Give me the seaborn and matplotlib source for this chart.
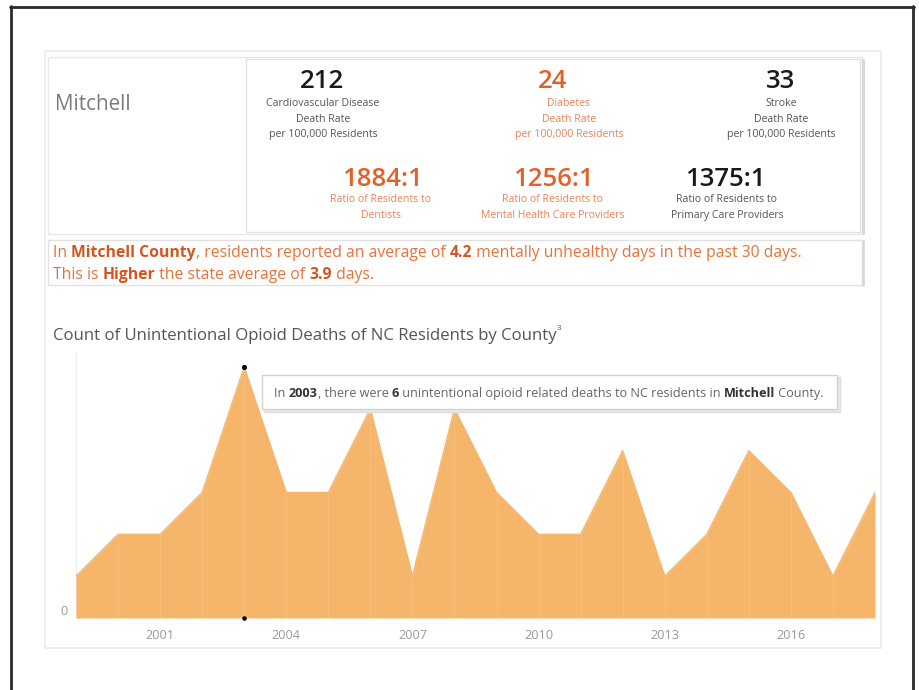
import matplotlib
matplotlib.use("Agg")
import matplotlib.pyplot as plt
import matplotlib.patches as mpatches
from matplotlib.lines import Line2D
from matplotlib.font_manager import FontProperties
import seaborn as sns

# ---------------- data ----------------
county = "Mitchell"
years = [1999, 2000, 2001, 2002, 2003, 2004, 2005, 2006, 2007, 2008,
         2009, 2010, 2011, 2012, 2013, 2014, 2015, 2016, 2017, 2018]
deaths = [1, 2, 2, 3, 6, 3, 3, 5, 1, 5,
          3, 2, 2, 4, 1, 2, 4, 3, 1, 3]
tick_years = [2001, 2004, 2007, 2010, 2013, 2016]

rate_values = ["212", "24", "33"]
rate_labels = [["Cardiovascular Disease", "Death Rate", "per 100,000 Residents"],
               ["Diabetes", "Death Rate", "per 100,000 Residents"],
               ["Stroke", "Death Rate", "per 100,000 Residents"]]
rate_highlight = [False, True, False]

ratio_values = ["1884:1", "1256:1", "1375:1"]
ratio_labels = [["Ratio of Residents to", "Dentists"],
                ["Ratio of Residents to", "Mental Health Care Providers"],
                ["Ratio of Residents to", "Primary Care Providers"]]
ratio_highlight = [True, True, False]

county_days = "4.2"
state_days = "3.9"
comparison = "Higher"
hover_year = 2003
hover_count = 6

# ---------------- style ----------------
W, H = 919, 690
FONT = ["Open Sans", "DejaVu Sans"]
ORANGE_FILL = "#F5B66B"
ORANGE_TXT = "#E2602A"
ORANGE_LBL = "#E8845A"
ORANGE_PAR = "#E5733C"
ORANGE_BOLD = "#D4561E"

sns.set_theme(style="white")
plt.rcParams["font.family"] = FONT

fig = plt.figure(figsize=(W / 100, H / 100), dpi=100)
fig.patch.set_facecolor("white")
renderer = fig.canvas.get_renderer()


def fx(x):
    return x / W


def fy(y):
    return 1 - y / H


def rect(x0, y0, x1, y1, ec="#e6e6e6", lw=1.0, fc="none", z=1):
    r = mpatches.Rectangle((fx(x0), fy(y1)), fx(x1) - fx(x0), fy(y0) - fy(y1),
                           transform=fig.transFigure, fill=(fc != "none"),
                           facecolor=fc if fc != "none" else "white",
                           edgecolor=ec, linewidth=lw, zorder=z)
    fig.add_artist(r)
    return r


def hline(x0, x1, y, color, lw, z=1):
    fig.add_artist(Line2D([fx(x0), fx(x1)], [fy(y), fy(y)], transform=fig.transFigure,
                          color=color, lw=lw, zorder=z))


def vline(x, y0, y1, color, lw, z=1):
    fig.add_artist(Line2D([fx(x), fx(x)], [fy(y0), fy(y1)], transform=fig.transFigure,
                          color=color, lw=lw, zorder=z))


def text_width(s, size, weight="normal"):
    prop = FontProperties(family=FONT, size=size, weight=weight)
    w1, _, _ = renderer.get_text_width_height_descent("H" + s + "H", prop, ismath=False)
    w2, _, _ = renderer.get_text_width_height_descent("HH", prop, ismath=False)
    return w1 - w2


def fit(s, target, weight="normal", base=10.0):
    return base * target / text_width(s, base, weight)


def runs_width(runs, size):
    return sum(text_width(s, size, w) for s, w, c in runs)


def fit_runs(runs, target, base=10.0):
    return base * target / runs_width(runs, base)


def txt(x, y, s, size, color, weight="normal", ha="center", va="center", z=5):
    return fig.text(fx(x), fy(y), s, fontsize=size, color=color, fontweight=weight,
                    ha=ha, va=va, zorder=z, family=FONT)


def rich(x, y, runs, size, z=6):
    cur = x
    for s, weight, color in runs:
        fig.text(fx(cur), fy(y), s, fontsize=size, fontweight=weight, color=color,
                 ha="left", va="center", zorder=z, family=FONT)
        cur += text_width(s, size, weight)
    return cur


# ---------------- frames ----------------
vline(11, 6, 700, "#2a2a2a", 2.0, z=10)
vline(913, 6, 700, "#2a2a2a", 2.0, z=10)
hline(10, 914, 6.5, "#2a2a2a", 2.0, z=10)

rect(45, 51, 881, 648, ec="#ececec", lw=1.2)
rect(48, 57, 862, 234, ec="#e8e8e8", lw=1.0)
rect(246, 59, 860, 232, ec="#e2e2e2", lw=1.0)
vline(862.5, 60, 233, "#d8d8d8", 2.2)
rect(48, 240, 862, 285, ec="#e2e2e2", lw=1.0)
vline(862.5, 241, 285, "#d8d8d8", 2.0)

# ---------------- KPI texts ----------------
txt(55, 104, county, fit(county, 76), "#7a7a7a", ha="left")

NUM_W = "semibold"
NUM_SIZE = fit("1884:1", 81, weight=NUM_W)
LBL_SIZE = fit("per 100,000 Residents", 108)

rate_x = [322, 553, 781]
rate_lbl_x = [323, 569, 781]
for i in range(3):
    c_num = ORANGE_TXT if rate_highlight[i] else "#1a1a1a"
    c_lbl = ORANGE_LBL if rate_highlight[i] else "#555555"
    txt(rate_x[i], 81, rate_values[i], NUM_SIZE, c_num, weight=NUM_W)
    for j, line in enumerate(rate_labels[i]):
        txt(rate_lbl_x[i], 104 + j * 15.5, line, LBL_SIZE, c_lbl)

ratio_x = [382, 553, 725]
ratio_lbl_x = [381, 553, 727]
for i in range(3):
    c_num = ORANGE_TXT if ratio_highlight[i] else "#1a1a1a"
    c_lbl = ORANGE_LBL if ratio_highlight[i] else "#555555"
    txt(ratio_x[i], 179, ratio_values[i], NUM_SIZE, c_num, weight=NUM_W)
    for j, line in enumerate(ratio_labels[i]):
        txt(ratio_lbl_x[i], 200 + j * 15, line, LBL_SIZE, c_lbl)

# ---------------- paragraph ----------------
line1 = [("In ", "normal", ORANGE_PAR),
         (f"{county} County", "bold", ORANGE_BOLD),
         (", residents reported an average of ", "normal", ORANGE_PAR),
         (county_days, "bold", ORANGE_BOLD),
         (" mentally unhealthy days in the past 30 days.", "normal", ORANGE_PAR)]
line2 = [("This is ", "normal", ORANGE_PAR),
         (comparison, "bold", ORANGE_BOLD),
         (" the state average of ", "normal", ORANGE_PAR),
         (state_days, "bold", ORANGE_BOLD),
         (" days.", "normal", ORANGE_PAR)]
PS = fit_runs(line1, 747)
rich(53, 253, line1, PS)
rich(53, 275, line2, PS)

# ---------------- chart title ----------------
title_runs = [("Count of Unintentional Opioid Deaths of NC Residents by County", "normal", "#555555")]
end = rich(53, 336, title_runs, fit_runs(title_runs, 507))
txt(end + 0.5, 329, "3", 5.8, "#555555", ha="left")

# ---------------- area chart ----------------
unit = (618 - 367) / 6.0
ax_top = 352
ax = fig.add_axes([fx(76), fy(618), fx(875) - fx(76), fy(ax_top) - fy(618)])
ax.set_facecolor("none")
ax.fill_between(years, deaths, 0, color=ORANGE_FILL, lw=0, zorder=2)
sns.lineplot(x=years, y=deaths, ax=ax, color=ORANGE_FILL, lw=1.0, zorder=3)
ax.vlines(years[1:-1], 0, deaths[1:-1], color="white", alpha=0.12, lw=0.7, zorder=3)
ax.set_xlim(years[0], years[-1])
ax.set_ylim(0, (618 - ax_top) / unit)
ax.scatter([hover_year], [hover_count], s=7, color="black", zorder=6, clip_on=False)
ax.scatter([hover_year], [0], s=5, color="black", zorder=6, clip_on=False)

for s in ["top", "right", "bottom"]:
    ax.spines[s].set_visible(False)
ax.spines["left"].set_color("#eeeeee")
ax.spines["left"].set_linewidth(1.0)
ax.spines["left"].set_zorder(1)
ax.set_xticks(tick_years)
ax.set_xticklabels([str(y) for y in tick_years])
ax.set_yticks([0])
ax.set_yticklabels(["0"])
TICK_SIZE = fit("2001", 29)
ax.tick_params(axis="x", length=0, pad=8, labelsize=TICK_SIZE, labelcolor="#9a9a9a")
ax.tick_params(axis="y", length=0, pad=6, labelsize=TICK_SIZE, labelcolor="#9a9a9a")
for lbl in ax.get_yticklabels():
    lbl.set_va("bottom")
ax.grid(False)
ax.set_xlabel("")
ax.set_ylabel("")

# ---------------- tooltip ----------------
rect(264, 377, 840, 412, ec="#dcdcdc", lw=1.0, fc="#e9e9e9", z=7)
rect(262, 375, 837, 409, ec="#d2d2d2", lw=1.0, fc="white", z=8)
tip = [("In ", "normal", "#666666"),
       (str(hover_year), "bold", "#333333"),
       (", there were ", "normal", "#666666"),
       (str(hover_count), "bold", "#333333"),
       (" unintentional opioid related deaths to NC residents in ", "normal", "#666666"),
       (county, "bold", "#333333"),
       (" County.", "normal", "#666666")]
rich(274, 393, tip, fit_runs(tip, 550), z=9)

fig.savefig("out.png", dpi=100, facecolor="white")
